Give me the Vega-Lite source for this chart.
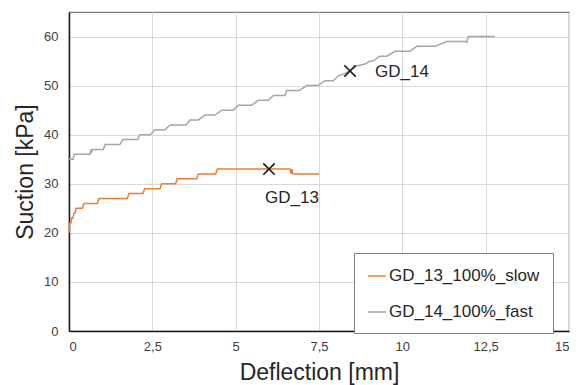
{
  "$schema": "https://vega.github.io/schema/vega-lite/v6.json",
  "width": 500,
  "height": 319,
  "autosize": {"type": "none"},
  "padding": {"left": 69, "top": 12, "right": 9, "bottom": 54},
  "background": "white",
  "config": {
    "font": "Liberation Sans",
    "view": {"stroke": "#7f7f7f", "strokeWidth": 1.2},
    "axis": {
      "grid": true, "gridColor": "#d9d9d9", "gridWidth": 1,
      "ticks": false, "domainColor": "#1a1a1a", "domainWidth": 1.5,
      "labelColor": "#404040", "labelFontSize": 13, "labelFont": "Liberation Sans",
      "titleColor": "#262626", "titleFontSize": 23, "titleFontWeight": "normal", "titleFont": "Liberation Sans"
    },
    "legend": {
      "orient": "none", "legendX": 285, "legendY": 241,
      "strokeColor": "#7f7f7f", "strokeWidth": 1, "fillColor": "white",
      "padding": 13, "symbolType": "stroke", "symbolSize": 324, "symbolStrokeWidth": 1.5,
      "labelFontSize": 17, "labelColor": "#262626", "labelOffset": 2, "labelFont": "Liberation Sans",
      "rowPadding": 18, "title": null, "labelLimit": 300
    }
  },
  "datasets": {
    "lines": [
      {"series": "GD_13_100%_slow", "d": 0, "s": 20},
      {"series": "GD_13_100%_slow", "d": 0.02, "s": 22},
      {"series": "GD_13_100%_slow", "d": 0.06, "s": 22},
      {"series": "GD_13_100%_slow", "d": 0.08, "s": 23},
      {"series": "GD_13_100%_slow", "d": 0.12, "s": 23},
      {"series": "GD_13_100%_slow", "d": 0.15, "s": 24},
      {"series": "GD_13_100%_slow", "d": 0.18, "s": 24},
      {"series": "GD_13_100%_slow", "d": 0.21, "s": 25},
      {"series": "GD_13_100%_slow", "d": 0.4, "s": 25},
      {"series": "GD_13_100%_slow", "d": 0.45, "s": 26},
      {"series": "GD_13_100%_slow", "d": 0.85, "s": 26},
      {"series": "GD_13_100%_slow", "d": 0.9, "s": 27},
      {"series": "GD_13_100%_slow", "d": 1.75, "s": 27},
      {"series": "GD_13_100%_slow", "d": 1.8, "s": 28},
      {"series": "GD_13_100%_slow", "d": 2.22, "s": 28},
      {"series": "GD_13_100%_slow", "d": 2.27, "s": 29},
      {"series": "GD_13_100%_slow", "d": 2.73, "s": 29},
      {"series": "GD_13_100%_slow", "d": 2.78, "s": 30},
      {"series": "GD_13_100%_slow", "d": 3.2, "s": 30},
      {"series": "GD_13_100%_slow", "d": 3.25, "s": 31},
      {"series": "GD_13_100%_slow", "d": 3.83, "s": 31},
      {"series": "GD_13_100%_slow", "d": 3.88, "s": 32},
      {"series": "GD_13_100%_slow", "d": 4.4, "s": 32},
      {"series": "GD_13_100%_slow", "d": 4.45, "s": 33},
      {"series": "GD_13_100%_slow", "d": 6.63, "s": 33},
      {"series": "GD_13_100%_slow", "d": 6.66, "s": 32},
      {"series": "GD_13_100%_slow", "d": 6.69, "s": 33},
      {"series": "GD_13_100%_slow", "d": 6.72, "s": 32},
      {"series": "GD_13_100%_slow", "d": 7.5, "s": 32},
      {"series": "GD_14_100%_fast", "d": 0, "s": 35},
      {"series": "GD_14_100%_fast", "d": 0.12, "s": 35},
      {"series": "GD_14_100%_fast", "d": 0.16, "s": 36},
      {"series": "GD_14_100%_fast", "d": 0.63, "s": 36},
      {"series": "GD_14_100%_fast", "d": 0.66, "s": 37},
      {"series": "GD_14_100%_fast", "d": 0.68, "s": 36.3},
      {"series": "GD_14_100%_fast", "d": 0.71, "s": 37},
      {"series": "GD_14_100%_fast", "d": 1.03, "s": 37},
      {"series": "GD_14_100%_fast", "d": 1.08, "s": 38},
      {"series": "GD_14_100%_fast", "d": 1.53, "s": 38},
      {"series": "GD_14_100%_fast", "d": 1.61, "s": 39},
      {"series": "GD_14_100%_fast", "d": 2.06, "s": 39},
      {"series": "GD_14_100%_fast", "d": 2.13, "s": 40},
      {"series": "GD_14_100%_fast", "d": 2.43, "s": 40},
      {"series": "GD_14_100%_fast", "d": 2.58, "s": 41},
      {"series": "GD_14_100%_fast", "d": 2.88, "s": 41},
      {"series": "GD_14_100%_fast", "d": 3.03, "s": 42},
      {"series": "GD_14_100%_fast", "d": 3.51, "s": 42},
      {"series": "GD_14_100%_fast", "d": 3.63, "s": 43},
      {"series": "GD_14_100%_fast", "d": 3.88, "s": 43},
      {"series": "GD_14_100%_fast", "d": 4.08, "s": 44},
      {"series": "GD_14_100%_fast", "d": 4.38, "s": 44},
      {"series": "GD_14_100%_fast", "d": 4.58, "s": 45},
      {"series": "GD_14_100%_fast", "d": 4.93, "s": 45},
      {"series": "GD_14_100%_fast", "d": 5.08, "s": 46},
      {"series": "GD_14_100%_fast", "d": 5.48, "s": 46},
      {"series": "GD_14_100%_fast", "d": 5.68, "s": 47},
      {"series": "GD_14_100%_fast", "d": 5.98, "s": 47},
      {"series": "GD_14_100%_fast", "d": 6.13, "s": 48},
      {"series": "GD_14_100%_fast", "d": 6.48, "s": 48},
      {"series": "GD_14_100%_fast", "d": 6.53, "s": 49},
      {"series": "GD_14_100%_fast", "d": 6.91, "s": 49},
      {"series": "GD_14_100%_fast", "d": 7.13, "s": 50},
      {"series": "GD_14_100%_fast", "d": 7.47, "s": 50},
      {"series": "GD_14_100%_fast", "d": 7.68, "s": 51},
      {"series": "GD_14_100%_fast", "d": 7.93, "s": 51},
      {"series": "GD_14_100%_fast", "d": 8.08, "s": 52},
      {"series": "GD_14_100%_fast", "d": 8.25, "s": 52.4},
      {"series": "GD_14_100%_fast", "d": 8.43, "s": 53},
      {"series": "GD_14_100%_fast", "d": 8.63, "s": 54},
      {"series": "GD_14_100%_fast", "d": 8.88, "s": 54.4},
      {"series": "GD_14_100%_fast", "d": 9.03, "s": 55},
      {"series": "GD_14_100%_fast", "d": 9.12, "s": 55},
      {"series": "GD_14_100%_fast", "d": 9.33, "s": 56},
      {"series": "GD_14_100%_fast", "d": 9.53, "s": 56},
      {"series": "GD_14_100%_fast", "d": 9.78, "s": 57},
      {"series": "GD_14_100%_fast", "d": 10.23, "s": 57},
      {"series": "GD_14_100%_fast", "d": 10.43, "s": 58},
      {"series": "GD_14_100%_fast", "d": 10.98, "s": 58},
      {"series": "GD_14_100%_fast", "d": 11.33, "s": 59},
      {"series": "GD_14_100%_fast", "d": 11.9, "s": 59},
      {"series": "GD_14_100%_fast", "d": 11.93, "s": 58.8},
      {"series": "GD_14_100%_fast", "d": 11.98, "s": 60},
      {"series": "GD_14_100%_fast", "d": 12.78, "s": 60}
    ],
    "markers": [
      {"label": "GD_13", "d": 6.0, "s": 33, "ld": 6.69, "ls": 27},
      {"label": "GD_14", "d": 8.43, "s": 53, "ld": 9.99, "ls": 52.7}
    ]
  },
  "layer": [
    {
      "data": {"name": "lines"},
      "mark": {"type": "line", "strokeWidth": 1.5, "interpolate": "linear"},
      "encoding": {
        "x": {
          "field": "d", "type": "quantitative",
          "scale": {"domain": [0, 15], "nice": false, "zero": false},
          "axis": {"values": [0, 2.5, 5, 7.5, 10, 12.5, 15], "title": "Deflection [mm]",
                   "labelExpr": "replace(format(datum.value, '~g'), '.', ',')", "labelPadding": 9, "titlePadding": 8}
        },
        "y": {
          "field": "s", "type": "quantitative",
          "scale": {"domain": [0, 65], "nice": false},
          "axis": {"values": [0, 10, 20, 30, 40, 50, 60], "title": "Suction [kPa]", "labelPadding": 11, "titlePadding": 6}
        },
        "color": {
          "field": "series", "type": "nominal",
          "scale": {"domain": ["GD_13_100%_slow", "GD_14_100%_fast"], "range": ["#ED7D31", "#A5A5A5"]},
          "legend": {"title": null}
        }
      }
    },
    {
      "data": {"name": "markers"},
      "mark": {"type": "point", "shape": "M-1,-1L1,1M-1,1L1,-1", "size": 130, "filled": false, "stroke": "#1a1a1a", "strokeWidth": 1.6, "opacity": 1},
      "encoding": {
        "x": {"field": "d", "type": "quantitative"},
        "y": {"field": "s", "type": "quantitative"}
      }
    },
    {
      "data": {"name": "markers"},
      "mark": {"type": "text", "fontSize": 17, "color": "#262626", "align": "center", "baseline": "middle", "font": "Liberation Sans"},
      "encoding": {
        "x": {"field": "ld", "type": "quantitative"},
        "y": {"field": "ls", "type": "quantitative"},
        "text": {"field": "label", "type": "nominal"}
      }
    }
  ]
}
